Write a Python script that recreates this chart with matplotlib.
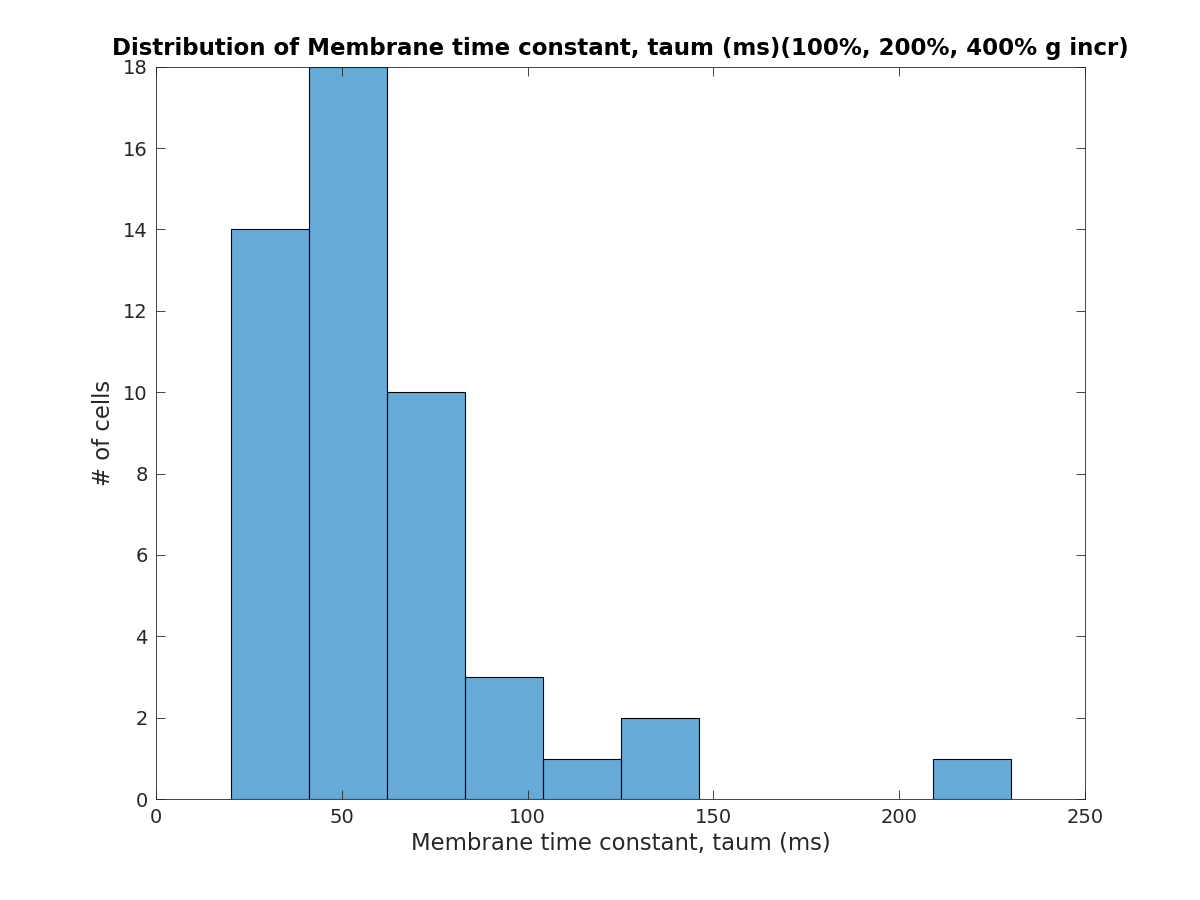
import numpy as np
import matplotlib
matplotlib.use("Agg")
import matplotlib.pyplot as plt

# histogram bins
bin_edges = [20.2, 41.2, 62.2, 83.2, 104.2, 125.1, 146.1, 167.1, 188.1, 209.1, 230.1]
counts = [14, 18, 10, 3, 1, 2, 0, 0, 0, 1]

plt.rcParams['font.family'] = ['DejaVu Sans']

fig = plt.figure(figsize=(12, 9), dpi=100)
ax = fig.add_axes([0.13, 0.112, 0.774, 0.814])
ax.set_axisbelow(True)

edges = np.array(bin_edges)
widths = np.diff(edges)
hist_color = (0.0, 0.447, 0.741, 0.6)
for left, w, c in zip(edges[:-1], widths, counts):
    if c > 0:
        ax.bar(left, c, width=w, align='edge', facecolor=hist_color,
               edgecolor='black', linewidth=0.8, zorder=0.5)

ax.set_xlim(0, 250)
ax.set_ylim(0, 18)
ax.set_xticks([0, 50, 100, 150, 200, 250])
ax.set_yticks(range(0, 19, 2))

grey = (0.15, 0.15, 0.15)
ax.tick_params(direction='in', top=True, right=True, length=6.5, width=0.6,
               labelsize=14, colors=grey, pad=6)
for s in ax.spines.values():
    s.set_linewidth(0.6)
    s.set_color(grey)
    s.set_zorder(3)

ax.set_xlabel('Membrane time constant, taum (ms)', fontsize=16.4, color=grey, labelpad=4)
ax.set_ylabel('# of cells', fontsize=16.4, color=grey, labelpad=6)
ax.set_title('Distribution of Membrane time constant, taum (ms)(100%, 200%, 400% g incr)',
             fontsize=16.5, fontweight='bold', color='black', pad=8)

fig.savefig('out.png', dpi=100)
